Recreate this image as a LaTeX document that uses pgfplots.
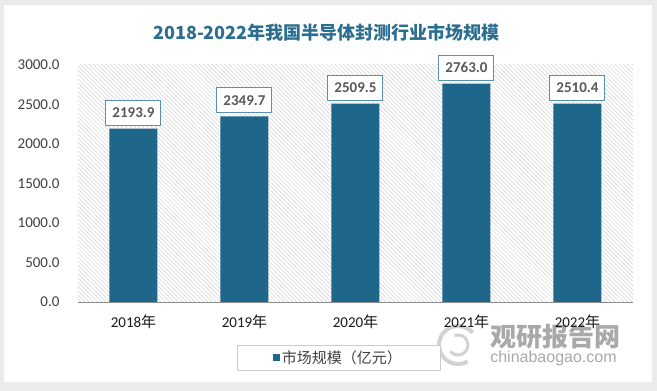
\documentclass[border=0pt]{standalone}
\usepackage{fontspec}
\setmainfont{Carlito}
\newfontfamily\cjk{Noto Sans CJK SC}
\newfontfamily\wmfont{Liberation Sans}
\usepackage{pgfplots}
\pgfplotsset{compat=1.18}
\usetikzlibrary{patterns.meta}
\definecolor{barc}{HTML}{1F668B}
\definecolor{titc}{HTML}{2B6E8F}
\definecolor{lblc}{HTML}{595959}
\definecolor{brd}{HTML}{5A92AE}
\definecolor{bgc}{HTML}{EBEBEB}
\definecolor{wm}{HTML}{9A9A9A}
\definecolor{tickc}{HTML}{404040}
\begin{document}
\begin{tikzpicture}[x=1pt,y=1pt]
\fill[bgc] (0,0) rectangle (657,391);
\fill[white] (4,9) rectangle (652,386);
\node[font=\cjk\bfseries\fontsize{18}{21}\selectfont, text=titc] at (326.5,358) {2018-2022年我国半导体封测行业市场规模};
% watermark
\draw[wm!45, line width=4pt] (458,46) ++(40:19) arc (40:300:19);
\draw[wm!45, line width=3pt] (458,46) ++(220:10) arc (220:470:10);
\node[font=\cjk\bfseries\fontsize{26}{28}\selectfont, text=wm!85, anchor=west, inner sep=0pt] at (490,54) {观研报告网};
\node[font=\wmfont\fontsize{16}{18}\selectfont, text=wm!85, inner sep=0pt] at (553.5,33) {chinabaogao.com};
\begin{axis}[
  at={(78pt,89pt)}, anchor=south west,
  scale only axis, width=555pt, height=237pt,
  xmin=-0.5, xmax=4.5, ymin=0, ymax=3000,
  ybar, bar width=48pt,
  axis background/.style={pattern={Lines[angle=-45,distance=3pt,line width=0.5pt]}, pattern color=black!18},
  axis x line*=bottom, axis y line*=left,
  x axis line style={draw=black!45, line width=0.8pt},
  y axis line style={draw=none},
  major tick length=0pt,
  xtick={0,1,2,3,4},
  xticklabels={{2018{\cjk 年}},{2019{\cjk 年}},{2020{\cjk 年}},{2021{\cjk 年}},{2022{\cjk 年}}},
  xticklabel style={font=\fontsize{15}{18}\selectfont, text=black!90, yshift=-9pt},
  ytick={0,500,...,3000},
  yticklabel style={font=\fontsize{15}{18}\selectfont, text=tickc, xshift=-15pt},
  /pgf/number format/.cd, fixed, fixed zerofill, precision=1, 1000 sep={}, assume math mode=true,
  /pgfplots/.cd,
  nodes near coords={\pgfmathprintnumber[fixed,fixed zerofill,precision=1,1000 sep={}]{\pgfplotspointmeta}},
  every node near coord/.append style={draw=brd, fill=white, line width=1pt, text=lblc, font=\bfseries\fontsize{15}{18}\selectfont, minimum width=55pt, minimum height=25pt, inner sep=2pt, anchor=south, yshift=3pt},
  legend style={at={(0.469,-0.234)}, anchor=center, draw=black!20, fill=white, inner xsep=36pt, inner ysep=3.5pt, font=\cjk\fontsize{15}{18}\selectfont, text=tickc},
]
\addplot[fill=barc, draw=none, legend image code/.code={\fill[barc] (0pt,-3.5pt) rectangle (7pt,3.5pt);}] coordinates {(0,2193.9) (1,2349.7) (2,2509.5) (3,2763.0) (4,2510.4)};
\addlegendentry{市场规模（亿元）}
\end{axis}
\pgfresetboundingbox
\useasboundingbox (0,0) rectangle (657,391);
\end{tikzpicture}
\end{document}
